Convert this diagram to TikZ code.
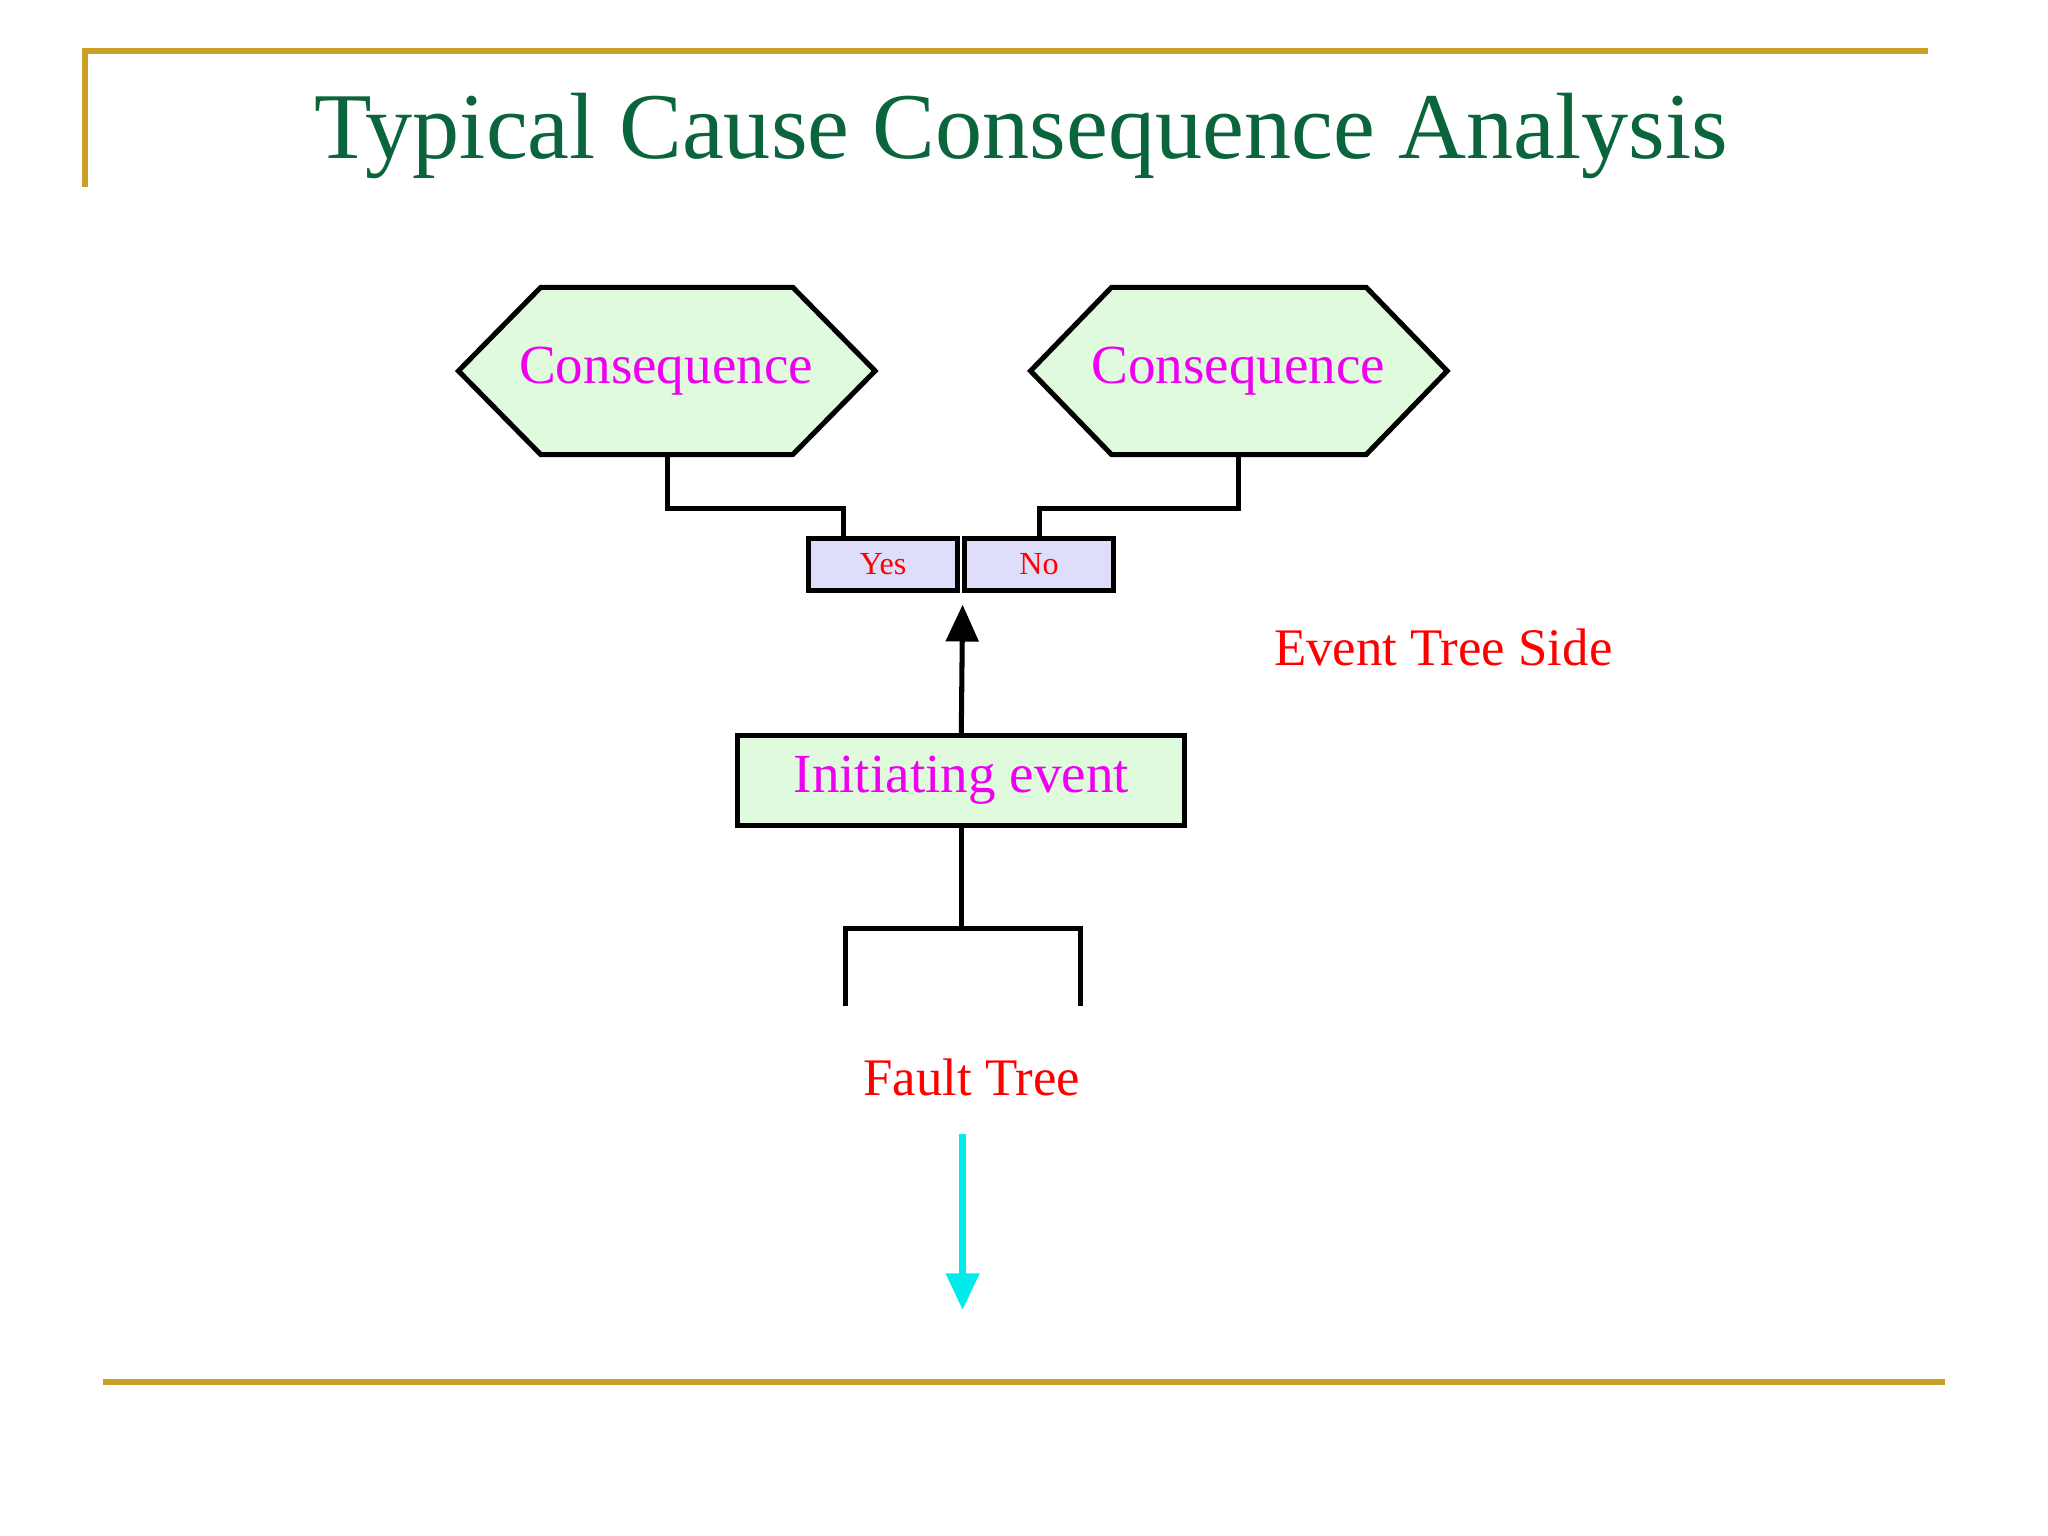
\documentclass[tikz,border=0pt]{standalone}
\usepackage{fontspec}
\setmainfont{Liberation Serif}
\usetikzlibrary{arrows.meta}
\definecolor{gold}{RGB}{200,160,40}
\definecolor{tgreen}{RGB}{10,100,60}
\definecolor{hexfill}{RGB}{224,250,222}
\definecolor{boxfill}{RGB}{222,222,250}
\definecolor{mag}{RGB}{240,0,240}
\definecolor{cy}{RGB}{0,235,235}
\begin{document}
\begin{tikzpicture}[x=0.01cm,y=-0.01cm,
  ln/.style={line width=1.1pt,black},
  hex/.style={ln,fill=hexfill},
  lbl/.style={text=mag,font=\fontsize{12}{14}\selectfont},
  red/.style={text=red,font=\fontsize{11.5}{14}\selectfont},
  yn/.style={ln,draw,fill=boxfill,minimum width=1.14cm,minimum height=0.4cm,inner sep=0pt,text=red,font=\fontsize{7}{9}\selectfont}]
\useasboundingbox (0,0) rectangle (1568,1176);
\draw[gold,line width=1.2pt] (65,143) -- (65,39) -- (1476,39);
\draw[gold,line width=1.2pt] (79,1058) -- (1489,1058);
\node[text=tgreen,font=\fontsize{20.5}{24}\selectfont] (title) at (782,104) {Typical Cause Consequence Analysis};
\draw[hex] (351,284) -- (414,220) -- (607,220) -- (670,284) -- (607,348) -- (414,348) -- cycle;
\draw[hex] (789,284) -- (851,220) -- (1046,220) -- (1108,284) -- (1046,348) -- (851,348) -- cycle;
\node[lbl] (c1) at (510,284) {Consequence};
\node[lbl] (c2) at (948,284) {Consequence};
\coordinate (c1b) at (511,348);
\coordinate (c2b) at (948,348);
\node[yn] (yes) at (676,432) {Yes};
\node[yn] (no) at (795.5,432) {No};
\coordinate (yt) at (646,412);
\coordinate (nt) at (796,412);
\draw[ln] (c1b) -- (511,389) -- (646,389) -- (yt);
\draw[ln] (c2b) -- (948,389) -- (796,389) -- (nt);
\node[ln,draw,fill=hexfill,minimum width=3.42cm,minimum height=0.69cm,inner sep=0pt,text=mag,font=\fontsize{12}{14}\selectfont] (ie) at (736,597.5) {Initiating event};
\coordinate (arrT) at (737,463);
\draw[ln,-{Triangle[length=8pt,width=7pt]}] (ie.north) -- (arrT);
\draw[ln] (ie.south) -- (736,711);
\draw[ln] (647,770) -- (647,711) -- (827,711) -- (827,770);
\node[red] (ets) at (1105,496) {Event Tree Side};
\node[red] (ft) at (744,825) {Fault Tree};
\coordinate (cy1) at (737,868);
\coordinate (cy2) at (737,1003);
\draw[cy,line width=1.6pt,-{Triangle[length=8pt,width=7pt]}] (cy1) -- (cy2);
\end{tikzpicture}
\end{document}
